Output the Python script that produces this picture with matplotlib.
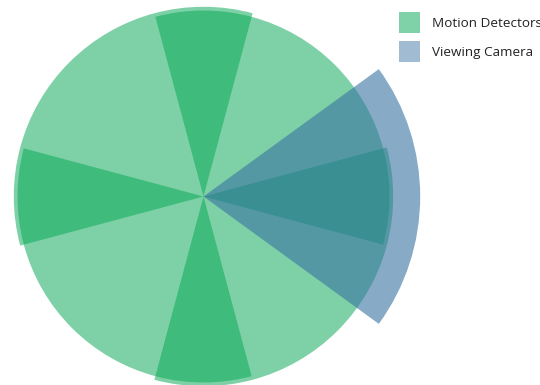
import numpy as np
import matplotlib
matplotlib.use("Agg")
import matplotlib.pyplot as plt
from matplotlib.patches import Patch

# Data
series_names = ["Motion Detectors", "Viewing Camera"]
motion_centers_deg = [45, 135, 225, 315]
motion_widths_deg = [120, 120, 120, 120]
motion_ranges = [1.0, 1.02, 1.0, 1.02]
camera_centers_deg = [0]
camera_widths_deg = [72]
camera_ranges = [1.165]

green = (0.01, 0.65, 0.32)
blue = (0.22, 0.45, 0.635)

W, H = 540, 385
fig = plt.figure(figsize=(W / 100, H / 100), dpi=100)
cx, cy = 203.5, 196.5
half = 222
unit_px = 186.0
ax = fig.add_axes([(cx - half) / W, (H - cy - half) / H, 2 * half / W, 2 * half / H],
                  projection="polar")
rmax = half / unit_px
ax.set_ylim(0, rmax)
ax.set_theta_zero_location("E")
ax.set_theta_direction(1)

ax.bar(np.deg2rad(motion_centers_deg), motion_ranges, width=np.deg2rad(motion_widths_deg),
       bottom=0, color=green, alpha=0.51, linewidth=0, align="center")
ax.bar(np.deg2rad(camera_centers_deg), camera_ranges, width=np.deg2rad(camera_widths_deg),
       bottom=0, color=blue, alpha=0.6, linewidth=0, align="center")

ax.set_axis_off()
ax.patch.set_alpha(0)

handles = [Patch(facecolor="#7FD1A7", edgecolor="none"),
           Patch(facecolor="#A0BBD2", edgecolor="none")]
fs = 9.7
leg = fig.legend(handles, series_names, loc="upper left",
                 bbox_to_anchor=(399 / W, 1 - 12 / H), frameon=False,
                 prop={"family": ["Open Sans", "DejaVu Sans"], "size": fs},
                 handlelength=1.56, handleheight=2.0, handletextpad=0.9,
                 labelspacing=0.6, borderpad=0, borderaxespad=0)
for t in leg.get_texts():
    t.set_color("#222222")

fig.savefig("out.png", dpi=100)
